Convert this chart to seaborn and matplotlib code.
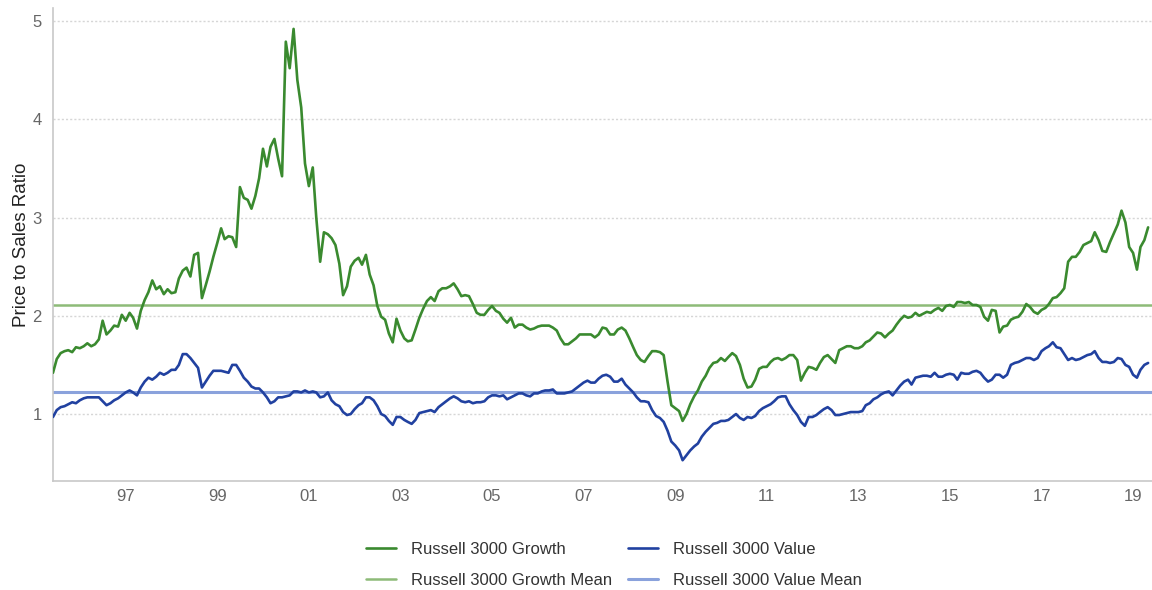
import matplotlib
matplotlib.use("Agg")
import matplotlib.pyplot as plt
import numpy as np
import pandas as pd
import seaborn as sns

# ---- data (monthly, starting June 1995) ----
start_month = "1995-06-01"

growth = [
    1.42, 1.56, 1.62, 1.64, 1.65, 1.63, 1.68, 1.67, 1.69, 1.72, 1.69, 1.71,
    1.76, 1.95, 1.81, 1.85, 1.90, 1.89, 2.01, 1.95, 2.03, 1.98, 1.87, 2.05,
    2.16, 2.24, 2.36, 2.27, 2.30, 2.22, 2.27, 2.23, 2.24, 2.38, 2.46, 2.49,
    2.40, 2.62, 2.64, 2.18, 2.31, 2.45, 2.60, 2.74, 2.89, 2.78, 2.81, 2.80,
    2.70, 3.31, 3.20, 3.18, 3.09, 3.22, 3.40, 3.70, 3.52, 3.72, 3.80, 3.60,
    3.42, 4.79, 4.52, 4.92, 4.40, 4.12, 3.55, 3.32, 3.51, 3.00, 2.55, 2.85,
    2.83, 2.79, 2.72, 2.53, 2.21, 2.30, 2.50, 2.56, 2.59, 2.52, 2.62, 2.42,
    2.31, 2.10, 1.99, 1.96, 1.82, 1.73, 1.97, 1.85, 1.77, 1.74, 1.75, 1.86,
    1.98, 2.07, 2.15, 2.19, 2.15, 2.25, 2.28, 2.28, 2.30, 2.33, 2.27, 2.20,
    2.21, 2.20, 2.12, 2.03, 2.01, 2.01, 2.06, 2.10, 2.05, 2.03, 1.97, 1.93,
    1.98, 1.88, 1.91, 1.91, 1.88, 1.86, 1.87, 1.89, 1.90, 1.90, 1.90, 1.88,
    1.85, 1.77, 1.71, 1.71, 1.74, 1.77, 1.81, 1.81, 1.81, 1.81, 1.78, 1.81,
    1.88, 1.87, 1.81, 1.81, 1.86, 1.88, 1.85, 1.77, 1.68, 1.60, 1.55, 1.53,
    1.59, 1.64, 1.64, 1.63, 1.60, 1.33, 1.09, 1.06, 1.03, 0.93, 1.00, 1.10,
    1.18, 1.24, 1.33, 1.39, 1.47, 1.52, 1.53, 1.57, 1.54, 1.58, 1.62, 1.59,
    1.50, 1.36, 1.27, 1.28, 1.35, 1.46, 1.48, 1.48, 1.53, 1.56, 1.57, 1.55,
    1.57, 1.60, 1.60, 1.55, 1.34, 1.42, 1.48, 1.47, 1.45, 1.52, 1.58, 1.60,
    1.56, 1.52, 1.65, 1.67, 1.69, 1.69, 1.67, 1.67, 1.69, 1.73, 1.75, 1.79,
    1.83, 1.82, 1.78, 1.82, 1.85, 1.91, 1.96, 2.00, 1.98, 1.99, 2.03, 2.00,
    2.02, 2.04, 2.03, 2.06, 2.08, 2.05, 2.10, 2.11, 2.09, 2.14, 2.14, 2.13,
    2.14, 2.11, 2.11, 2.09, 1.99, 1.95, 2.06, 2.05, 1.83, 1.89, 1.90, 1.96,
    1.98, 1.99, 2.04, 2.12, 2.09, 2.04, 2.02, 2.06, 2.08, 2.12, 2.18, 2.19,
    2.23, 2.28, 2.55, 2.60, 2.60, 2.65, 2.72, 2.74, 2.76, 2.85, 2.77, 2.66,
    2.65, 2.75, 2.84, 2.93, 3.07, 2.95, 2.70, 2.64, 2.47, 2.70, 2.77, 2.90,
]

value = [
    0.97, 1.04, 1.07, 1.08, 1.10, 1.12, 1.11, 1.14, 1.16, 1.17, 1.17, 1.17,
    1.17, 1.13, 1.09, 1.11, 1.14, 1.16, 1.19, 1.22, 1.24, 1.22, 1.19, 1.27,
    1.33, 1.37, 1.35, 1.38, 1.42, 1.40, 1.42, 1.45, 1.45, 1.50, 1.61, 1.61,
    1.57, 1.52, 1.47, 1.27, 1.33, 1.39, 1.44, 1.44, 1.44, 1.43, 1.42, 1.50,
    1.50, 1.44, 1.37, 1.33, 1.28, 1.26, 1.26, 1.22, 1.17, 1.11, 1.13, 1.17,
    1.17, 1.18, 1.19, 1.23, 1.23, 1.22, 1.24, 1.22, 1.23, 1.22, 1.17, 1.18,
    1.22, 1.14, 1.10, 1.08, 1.02, 0.99, 1.00, 1.05, 1.09, 1.11, 1.17, 1.17,
    1.14, 1.08, 1.00, 0.98, 0.93, 0.89, 0.97, 0.97, 0.94, 0.92, 0.90, 0.94,
    1.01, 1.02, 1.03, 1.04, 1.02, 1.07, 1.10, 1.13, 1.16, 1.18, 1.16, 1.13,
    1.12, 1.13, 1.11, 1.12, 1.12, 1.13, 1.17, 1.19, 1.19, 1.18, 1.19, 1.15,
    1.17, 1.19, 1.21, 1.21, 1.19, 1.18, 1.21, 1.21, 1.23, 1.24, 1.24, 1.25,
    1.21, 1.21, 1.21, 1.22, 1.23, 1.26, 1.29, 1.32, 1.34, 1.32, 1.32, 1.36,
    1.39, 1.40, 1.38, 1.33, 1.33, 1.36, 1.30, 1.26, 1.22, 1.17, 1.13, 1.13,
    1.12, 1.04, 0.98, 0.96, 0.92, 0.83, 0.72, 0.68, 0.63, 0.53, 0.58, 0.63,
    0.67, 0.70, 0.77, 0.82, 0.86, 0.90, 0.91, 0.93, 0.93, 0.94, 0.97, 1.00,
    0.96, 0.94, 0.97, 0.96, 0.98, 1.03, 1.06, 1.08, 1.10, 1.13, 1.17, 1.18,
    1.18, 1.10, 1.04, 0.99, 0.92, 0.88, 0.97, 0.97, 0.99, 1.02, 1.05, 1.07,
    1.04, 0.99, 0.99, 1.00, 1.01, 1.02, 1.02, 1.02, 1.03, 1.09, 1.11, 1.15,
    1.17, 1.20, 1.22, 1.23, 1.19, 1.24, 1.29, 1.33, 1.35, 1.30, 1.37, 1.38,
    1.39, 1.39, 1.38, 1.42, 1.38, 1.38, 1.40, 1.41, 1.40, 1.35, 1.42, 1.41,
    1.41, 1.43, 1.44, 1.42, 1.37, 1.33, 1.35, 1.40, 1.40, 1.37, 1.40, 1.50,
    1.52, 1.53, 1.55, 1.57, 1.57, 1.55, 1.57, 1.64, 1.67, 1.69, 1.73, 1.68,
    1.67, 1.61, 1.55, 1.57, 1.55, 1.56, 1.58, 1.60, 1.61, 1.64, 1.57, 1.53,
    1.53, 1.52, 1.53, 1.57, 1.56, 1.50, 1.48, 1.40, 1.37, 1.45, 1.50, 1.52,
]

growth_mean = 2.11
value_mean = 1.22

series_names = ["Russell 3000 Growth", "Russell 3000 Value"]
mean_names = ["Russell 3000 Growth Mean", "Russell 3000 Value Mean"]
tick_years = [1997, 1999, 2001, 2003, 2005, 2007, 2009, 2011, 2013, 2015, 2017, 2019]
y_ticks = [1, 2, 3, 4, 5]
y_label = "Price to Sales Ratio"

# ---- styling ----
c_growth = "#3a8a2f"
c_value = "#2141a0"
c_growth_mean = "#8dbb78"
c_value_mean = "#8aa2dc"

sns.set_theme(style="white")
plt.rcParams["font.family"] = ["Liberation Sans", "DejaVu Sans"]

dates = pd.date_range(start_month, periods=len(growth), freq="MS")
df = pd.DataFrame({"date": dates, "growth": growth, "value": value})

fig = plt.figure(figsize=(11.52, 5.90), dpi=100)
ax = fig.add_axes([0.046, 0.185, 0.954, 0.801])

# gridlines
for yt in y_ticks:
    ax.axhline(yt, color="#d6d6d6", lw=1.0, ls=(0, (1.5, 1.5)), zorder=0)

sns.lineplot(data=df, x="date", y="growth", ax=ax, color=c_growth,
             lw=1.9, label=series_names[0], zorder=3)
sns.lineplot(data=df, x="date", y="value", ax=ax, color=c_value,
             lw=1.9, label=series_names[1], zorder=3)
ax.axhline(growth_mean, color=c_growth_mean, lw=1.8, label=mean_names[0], zorder=2)
ax.axhline(value_mean, color=c_value_mean, lw=2.2, label=mean_names[1], zorder=2)

ax.set_xlim(dates[0], pd.Timestamp("2019-06-01"))
ax.set_ylim(0.32, 5.13)
ax.set_yticks(y_ticks)
ax.set_yticklabels([str(t) for t in y_ticks])
ax.set_xticks([pd.Timestamp(f"{y}-01-01") for y in tick_years])
ax.set_xticklabels([f"{y % 100:02d}" for y in tick_years])
ax.tick_params(axis="both", length=0, colors="#666666", labelsize=12)
ax.tick_params(axis="x", pad=6)
ax.tick_params(axis="y", pad=8)
ax.set_xlabel("")
ax.set_ylabel(y_label, fontsize=13.5, color="#222222", labelpad=2)

for side in ["top", "right"]:
    ax.spines[side].set_visible(False)
ax.spines["left"].set_color("#c8c8c8")
ax.spines["bottom"].set_color("#c8c8c8")
ax.spines["left"].set_linewidth(1.2)
ax.spines["bottom"].set_linewidth(1.2)

handles, labels = ax.get_legend_handles_labels()
order = [labels.index(n) for n in [series_names[0], mean_names[0], series_names[1], mean_names[1]]]
if ax.legend_:
    ax.legend_.remove()
leg = fig.legend([handles[i] for i in order], [labels[i] for i in order],
                 loc="center", bbox_to_anchor=(0.533, 0.042), ncol=2, frameon=False,
                 fontsize=12, handlelength=1.8, columnspacing=1.0, handletextpad=0.9,
                 labelspacing=0.95)
for t in leg.get_texts():
    t.set_color("#333333")

fig.savefig("out.png", dpi=100)
